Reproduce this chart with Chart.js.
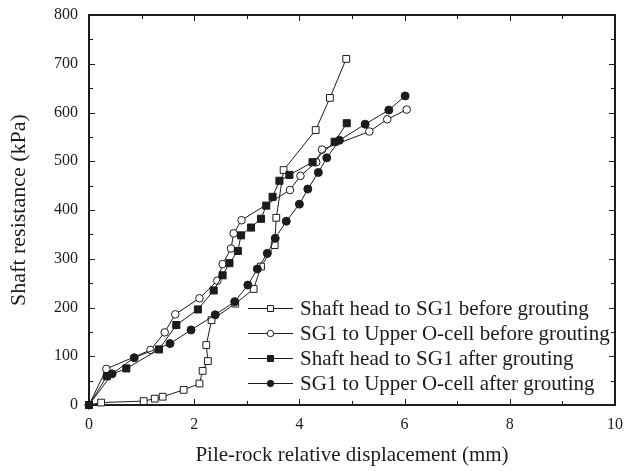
<!DOCTYPE html>
<html>
<head>
<meta charset="utf-8">
<title>Shaft resistance vs displacement</title>
<script src="https://cdn.jsdelivr.net/npm/chart.js@4/dist/chart.umd.min.js"></script>
<style>
  html, body { margin: 0; padding: 0; background: #fff; }
  #wrap { width: 629px; height: 471px; position: relative; }
</style>
</head>
<body>
<div id="wrap"><canvas id="my-chart"></canvas></div>
<script>
'use strict';

// ******** DATA **************
// displacement (mm) and shaft resistance (kPa) for each measured segment
let headBeforeX = [0, 0.23, 1.04, 1.25, 1.40, 1.80, 2.10, 2.16, 2.26, 2.23, 2.33, 2.78, 3.13, 3.27, 3.53, 3.56, 3.70, 4.31, 4.58, 4.89];
let headBeforeY = [0, 5, 8, 13, 17, 31, 44, 70, 90, 123, 174, 208, 238, 284, 328, 384, 482, 564, 630, 710];

let cellBeforeX = [0, 0.33, 1.17, 1.44, 1.64, 2.10, 2.44, 2.54, 2.70, 2.75, 2.90, 3.82, 4.02, 4.32, 4.43, 5.33, 5.67, 6.04];
let cellBeforeY = [0, 74, 113, 149, 186, 219, 255, 289, 321, 352, 379, 441, 470, 498, 524, 561, 586, 606];

let headAfterX = [0, 0.34, 0.71, 1.33, 1.66, 2.07, 2.37, 2.54, 2.67, 2.83, 2.89, 3.08, 3.27, 3.37, 3.49, 3.62, 3.81, 4.25, 4.67, 4.90];
let headAfterY = [0, 59, 75, 114, 164, 196, 235, 266, 291, 316, 348, 364, 382, 409, 427, 460, 472, 498, 540, 578];

let cellAfterX = [0, 0.44, 0.86, 1.54, 1.94, 2.40, 2.77, 3.02, 3.20, 3.39, 3.54, 3.75, 4.00, 4.16, 4.36, 4.52, 4.76, 5.25, 5.70, 6.01];
let cellAfterY = [0, 64, 97, 126, 154, 185, 212, 246, 279, 311, 342, 377, 412, 443, 477, 507, 543, 576, 605, 634];

let seriesNames = [
  'Shaft head to SG1 before grouting',
  'SG1 to Upper O-cell before grouting',
  'Shaft head to SG1 after grouting',
  'SG1 to Upper O-cell after grouting'
];

let xTicks = [0, 2, 4, 6, 8, 10];
let yTicks = [0, 100, 200, 300, 400, 500, 600, 700, 800];

// ********* HELPERS *************
const INK = '#1c1c1c';
const SERIF = '"Liberation Serif", "Times New Roman", serif';

function toPoints(xs, ys) {
  let pts = [];
  for (let i = 0; i < xs.length; i++) {
    pts.push({ x: xs[i], y: ys[i] });
  }
  return pts;
}

function makeSeries(label, pts, style, filled, radius, order) {
  return {
    label: label,
    data: pts,
    showLine: true,
    borderColor: INK,
    borderWidth: 1,
    pointStyle: style,
    pointRadius: radius,
    pointBorderWidth: 1,
    pointBorderColor: INK,
    pointBackgroundColor: filled ? INK : '#ffffff',
    fill: false,
    tension: 0,
    clip: false,
    order: order
  };
}

// box frame with inward major and minor ticks on all four sides
const frameTicks = {
  id: 'frameTicks',
  beforeDatasetsDraw(chart) {
    let { ctx, chartArea: a, scales } = chart;
    let xs = scales.x, ys = scales.y;
    ctx.save();
    ctx.strokeStyle = INK;
    ctx.lineWidth = 1;
    for (let v = 0; v <= 10; v += 1) {
      let px = Math.round(xs.getPixelForValue(v)) + 0.5;
      let len = v % 2 === 0 ? 6 : 4;
      ctx.beginPath();
      ctx.moveTo(px, a.bottom); ctx.lineTo(px, a.bottom - len);
      ctx.moveTo(px, a.top); ctx.lineTo(px, a.top + len);
      ctx.stroke();
    }
    for (let v = 0; v <= 800; v += 50) {
      let py = Math.round(ys.getPixelForValue(v)) + 0.5;
      let len = v % 100 === 0 ? 6 : 4;
      ctx.beginPath();
      ctx.moveTo(a.left, py); ctx.lineTo(a.left + len, py);
      ctx.moveTo(a.right, py); ctx.lineTo(a.right - len, py);
      ctx.stroke();
    }
    ctx.lineWidth = 2;
    ctx.strokeRect(a.left, a.top, a.right - a.left, a.bottom - a.top);
    ctx.restore();
  }
};

// legend drawn inside the plot, line + marker + text
const insideLegend = {
  id: 'insideLegend',
  afterDraw(chart) {
    let { ctx, chartArea: a } = chart;
    let x0 = a.left + 159, x1 = a.left + 204, xm = (x0 + x1) / 2;
    let yTop = 308, gap = 25;
    ctx.save();
    ctx.font = '21px ' + SERIF;
    ctx.textBaseline = 'middle';
    ctx.textAlign = 'left';
    chart.data.datasets.forEach((ds, i) => {
      let y = yTop + i * gap;
      ctx.strokeStyle = INK;
      ctx.lineWidth = 1;
      ctx.beginPath();
      ctx.moveTo(x0, y + 0.5); ctx.lineTo(x1, y + 0.5);
      ctx.stroke();
      ctx.fillStyle = ds.pointBackgroundColor;
      ctx.beginPath();
      if (ds.pointStyle === 'rect') {
        ctx.rect(xm - 3, y - 2.5, 6, 6);
      } else {
        ctx.arc(xm, y + 0.5, 3.2, 0, Math.PI * 2);
      }
      ctx.fill();
      ctx.stroke();
      ctx.fillStyle = INK;
      ctx.fillText(ds.label, x1 + 7, y + 1);
    });
    ctx.restore();
  }
};

// ********* CHART *************
let canvasElem = document.getElementById('my-chart');

let myObj = {
  type: 'scatter',
  data: {
    datasets: [
      makeSeries(seriesNames[0], toPoints(headBeforeX, headBeforeY), 'rect', false, 4.8, 4),
      makeSeries(seriesNames[1], toPoints(cellBeforeX, cellBeforeY), 'circle', false, 3.8, 3),
      makeSeries(seriesNames[2], toPoints(headAfterX, headAfterY), 'rect', true, 5, 2),
      makeSeries(seriesNames[3], toPoints(cellAfterX, cellAfterY), 'circle', true, 4, 1)
    ]
  },
  options: {
    responsive: true,
    maintainAspectRatio: false,
    animation: false,
    layout: { padding: { left: 0, top: 15, right: 14, bottom: 0 } },
    plugins: {
      legend: { display: false },
      tooltip: { enabled: false }
    },
    scales: {
      x: {
        type: 'linear',
        min: 0,
        max: 10,
        grid: { display: false, drawTicks: false },
        border: { display: false },
        afterBuildTicks: (scale) => { scale.ticks = xTicks.map(v => ({ value: v })); },
        afterFit: (scale) => {
          scale.height = 66;
          scale.paddingLeft = 0;
          scale.paddingRight = 0;
        },
        ticks: {
          color: INK,
          padding: 10,
          maxRotation: 0,
          font: { family: SERIF, size: 16 }
        },
        title: {
          display: true,
          text: 'Pile-rock relative displacement (mm)',
          color: INK,
          padding: { top: 0, bottom: 3 },
          font: { family: SERIF, size: 21 }
        }
      },
      y: {
        type: 'linear',
        min: 0,
        max: 800,
        grid: { display: false, drawTicks: false },
        border: { display: false },
        afterBuildTicks: (scale) => { scale.ticks = yTicks.map(v => ({ value: v })); },
        afterFit: (scale) => {
          scale.width = 89;
          scale.paddingTop = 0;
          scale.paddingBottom = 0;
        },
        ticks: {
          color: INK,
          padding: 11,
          font: { family: SERIF, size: 16 }
        },
        title: {
          display: true,
          text: 'Shaft resistance (kPa)',
          color: INK,
          padding: { top: 6, bottom: 0 },
          font: { family: SERIF, size: 22 }
        }
      }
    }
  },
  plugins: [frameTicks, insideLegend]
};

new Chart(canvasElem, myObj);
</script>
</body>
</html>
